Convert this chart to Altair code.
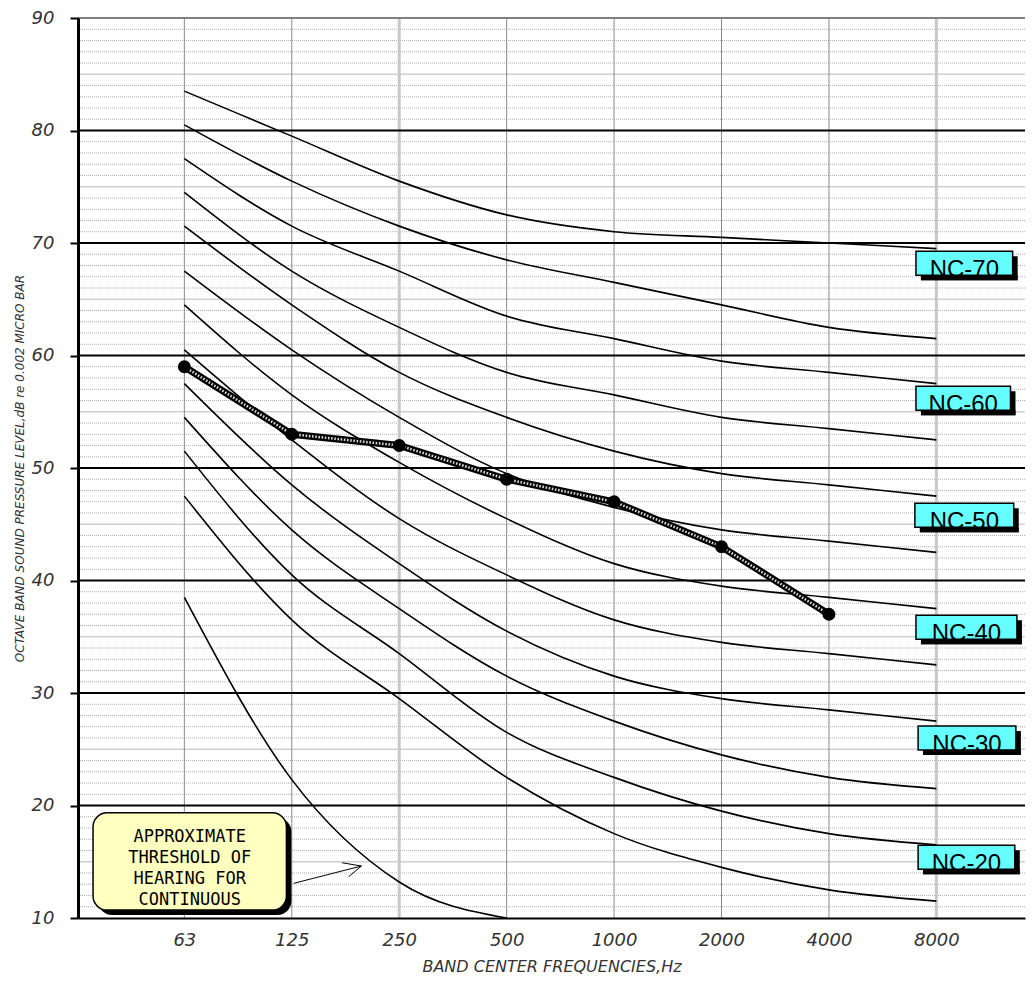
import altair as alt
import pandas as pd

# ---------------- data ----------------
freq_labels = ["63", "125", "250", "500", "1000", "2000", "4000", "8000"]
freq_index = [0, 1, 2, 3, 4, 5, 6, 7]

nc_names = ["NC-15", "NC-20", "NC-25", "NC-30", "NC-35", "NC-40",
            "NC-45", "NC-50", "NC-55", "NC-60", "NC-65", "NC-70"]
nc_15 = [47.5, 36.5, 29.5, 22.5, 17.5, 14.5, 12.5, 11.5]
nc_20 = [51.5, 40.5, 33.5, 26.5, 22.5, 19.5, 17.5, 16.5]
nc_25 = [54.5, 44.5, 37.5, 31.5, 27.5, 24.5, 22.5, 21.5]
nc_30 = [57.5, 48.5, 41.5, 35.5, 31.5, 29.5, 28.5, 27.5]
nc_35 = [60.5, 52.5, 45.5, 40.5, 36.5, 34.5, 33.5, 32.5]
nc_40 = [64.5, 56.5, 50.5, 45.5, 41.5, 39.5, 38.5, 37.5]
nc_45 = [67.5, 60.5, 54.5, 49.5, 46.5, 44.5, 43.5, 42.5]
nc_50 = [71.5, 64.5, 58.5, 54.5, 51.5, 49.5, 48.5, 47.5]
nc_55 = [74.5, 67.5, 62.5, 58.5, 56.5, 54.5, 53.5, 52.5]
nc_60 = [77.5, 71.5, 67.5, 63.5, 61.5, 59.5, 58.5, 57.5]
nc_65 = [80.5, 75.5, 71.5, 68.5, 66.5, 64.5, 62.5, 61.5]
nc_70 = [83.5, 79.5, 75.5, 72.5, 71.0, 70.5, 70.0, 69.5]
nc_values = [nc_15, nc_20, nc_25, nc_30, nc_35, nc_40,
             nc_45, nc_50, nc_55, nc_60, nc_65, nc_70]

threshold_index = [0, 1, 2, 3]
threshold_db = [38.5, 22.3, 13.2, 10.0]

measured_index = [0, 1, 2, 3, 4, 5, 6]
measured_db = [59, 53, 52, 49, 47, 43, 37]

# curve label annotations
label_names = ["NC-70", "NC-60", "NC-50", "NC-40", "NC-30", "NC-20"]
label_center_db = [68.2, 56.2, 45.8, 35.85, 26.0, 15.4]
label_x0 = [6.81, 6.81, 6.80, 6.81, 6.83, 6.83]
label_x1 = [7.71, 7.69, 7.72, 7.75, 7.74, 7.73]
label_half_db = 1.07

# threshold note annotation
note_lines = ["APPROXIMATE", "THRESHOLD OF", "HEARING FOR", "CONTINUOUS"]
note_box = {"x0": -0.85, "x1": 0.95, "y_top": 19.35, "y_bot": 10.71}
note_first_line = {"x": 0.05, "y": 17.22}
arrow_x = [1.017, 1.468, 1.529]
arrow_y = [13.08, 14.91, 13.67]
arrow_x2 = [1.648, 1.648, 1.648]
arrow_y2 = [14.62, 14.62, 14.62]

major_db = [20, 30, 40, 50, 60, 70, 80]
top_db = [90]
minor_db = [v for v in range(11, 90) if v % 10 != 0]

# ---------------- tables ----------------
rows = []
for name, vals in zip(nc_names, nc_values):
    for i, v in zip(freq_index, vals):
        rows.append({"curve": name, "idx": i, "db": v})
nc_df = pd.DataFrame(rows)
thr_df = pd.DataFrame({"idx": threshold_index, "db": threshold_db})
meas_df = pd.DataFrame({"idx": measured_index, "db": measured_db})
lab_df = pd.DataFrame({
    "name": label_names, "x0": label_x0, "x1": label_x1,
    "yc": label_center_db,
})
lab_df["yt"] = lab_df["yc"] + label_half_db
lab_df["yb"] = lab_df["yc"] - label_half_db
lab_df["xc"] = (lab_df["x0"] + lab_df["x1"]) / 2
note_df = pd.DataFrame([{**note_box, "xc": note_first_line["x"],
                         "yc": note_first_line["y"], "text": note_lines}])
arrow_df = pd.DataFrame({"x": arrow_x, "y": arrow_y, "x2": arrow_x2, "y2": arrow_y2})
minor_df = pd.DataFrame({"db": minor_db})
minor_df["five"] = minor_df["db"] % 5 == 0
major_df = pd.DataFrame({"db": major_db})
top_df = pd.DataFrame({"db": top_db})
vgrid_df = pd.DataFrame({"idx": freq_index})
vgrid_df["light"] = vgrid_df["idx"].isin([2, 7])

# ---------------- scales / axes ----------------
AXFONT = "DejaVu Sans"
sx = alt.Scale(domain=[-0.99, 7.825], nice=False, zero=False)
sy = alt.Scale(domain=[10, 90], nice=False, zero=False)
label_expr = "[" + ",".join("'%s'" % l for l in freq_labels) + "][datum.value]"
ax_x = alt.Axis(values=freq_index, labelExpr=label_expr, ticks=False, grid=False,
                domainColor="black", domainWidth=2, labelFont=AXFONT,
                labelFontStyle="italic", labelFontWeight=300, labelFontSize=18,
                labelColor="#333", labelPadding=13,
                title="BAND CENTER FREQUENCIES,Hz", titleFont=AXFONT,
                titleFontStyle="italic", titleFontWeight=300, titleFontSize=16,
                titleColor="#333", titlePadding=9, zindex=1)
ax_y = alt.Axis(values=list(range(10, 100, 10)), grid=False, tickSize=8,
                tickColor="black", tickWidth=2, domainColor="black", domainWidth=3,
                labelFont=AXFONT, labelFontStyle="italic", labelFontWeight=300,
                labelFontSize=18, labelColor="#333", labelPadding=16,
                title="OCTAVE BAND SOUND PRESSURE LEVEL,dB re 0.002 MICRO BAR",
                titleFont=AXFONT, titleFontStyle="italic", titleFontWeight=300,
                titleFontSize=12, titleColor="#333", titlePadding=5, zindex=1)


def X(f):
    return alt.X(f, type="quantitative", scale=sx, axis=ax_x)


def Y(f):
    return alt.Y(f, type="quantitative", scale=sy, axis=ax_y)


# ---------------- layers ----------------
minor_dot = alt.Chart(minor_df).transform_filter("!datum.five").mark_rule(
    color="#9a9a9a", strokeWidth=0.8, strokeDash=[1, 1]).encode(y=Y("db"))
minor_five = alt.Chart(minor_df).transform_filter("datum.five").mark_rule(
    color="#cfcfcf", strokeWidth=1.5).encode(y=Y("db"))
vgrid_dark = alt.Chart(vgrid_df).transform_filter("!datum.light").mark_rule(
    color="#8a8a8a", strokeWidth=1).encode(x=X("idx"))
vgrid_light = alt.Chart(vgrid_df).transform_filter("datum.light").mark_rule(
    color="#c8c8c8", strokeWidth=3).encode(x=X("idx"))
major = alt.Chart(major_df).mark_rule(color="black", strokeWidth=2).encode(y=Y("db"))
top = alt.Chart(top_df).mark_rule(color="#808080", strokeWidth=2).encode(y=Y("db"))

curves = alt.Chart(nc_df).mark_line(color="black", strokeWidth=1.6,
                                    interpolate="monotone").encode(
    x=X("idx"), y=Y("db"), detail="curve:N")
thr = alt.Chart(thr_df).mark_line(color="black", strokeWidth=1.6,
                                  interpolate="monotone").encode(x=X("idx"), y=Y("db"))

meas_outer = alt.Chart(meas_df).mark_line(color="black", strokeWidth=7).encode(
    x=X("idx"), y=Y("db"))
meas_inner = alt.Chart(meas_df).mark_line(color="#d8d8d8", strokeWidth=2.5,
                                          strokeDash=[1.6, 1.6]).encode(
    x=X("idx"), y=Y("db"))
meas_pts = alt.Chart(meas_df).mark_point(filled=True, color="black", size=170,
                                         opacity=1).encode(x=X("idx"), y=Y("db"))

lab_shadow = alt.Chart(lab_df).mark_rect(color="black", xOffset=5, x2Offset=5,
                                         yOffset=5, y2Offset=5).encode(
    x=X("x0"), x2="x1", y=Y("yt"), y2="yb")
lab_box = alt.Chart(lab_df).mark_rect(fill="#66ffff", stroke="black",
                                      strokeWidth=1.5).encode(
    x=X("x0"), x2="x1", y=Y("yt"), y2="yb")
lab_text = alt.Chart(lab_df).mark_text(font="Liberation Sans", fontSize=24,
                                       baseline="alphabetic", align="center",
                                       dy=14, color="black").encode(
    x=X("xc"), y=Y("yc"), text="name:N")
lab_strip = alt.Chart(lab_df).mark_rect(color="black", xOffset=5, x2Offset=5,
                                        y2Offset=5).encode(
    x=X("x0"), x2="x1", y=Y("yb"), y2="yb")

note_shadow = alt.Chart(note_df).mark_rect(color="black", cornerRadius=14,
                                           xOffset=5, x2Offset=5, yOffset=5,
                                           y2Offset=5).encode(
    x=X("x0"), x2="x1", y=Y("y_top"), y2="y_bot")
note_rect = alt.Chart(note_df).mark_rect(fill="#ffffc0", stroke="black",
                                         strokeWidth=1.5, cornerRadius=14).encode(
    x=X("x0"), x2="x1", y=Y("y_top"), y2="y_bot")
note_text = alt.Chart(note_df).mark_text(font="DejaVu Sans Mono", fontSize=17,
                                         lineHeight=21, baseline="middle",
                                         align="center", color="black").encode(
    x=X("xc"), y=Y("yc"), text="text")
arrow = alt.Chart(arrow_df).mark_rule(color="black", strokeWidth=1).encode(
    x=X("x"), y=Y("y"), x2="x2", y2="y2")

chart = alt.layer(
    minor_dot, minor_five, vgrid_dark, vgrid_light, major, top,
    curves, thr, meas_outer, meas_inner, meas_pts,
    lab_shadow, lab_box, lab_text, lab_strip,
    note_shadow, note_rect, note_text, arrow,
).properties(
    width=947, height=900,
    autosize=alt.AutoSizeParams(type="none"),
    padding={"left": 70, "top": 10, "right": 2, "bottom": 56},
    background="white",
).configure_view(stroke=None)

chart.save("out.html", embed_options={"renderer": "svg", "actions": False})
